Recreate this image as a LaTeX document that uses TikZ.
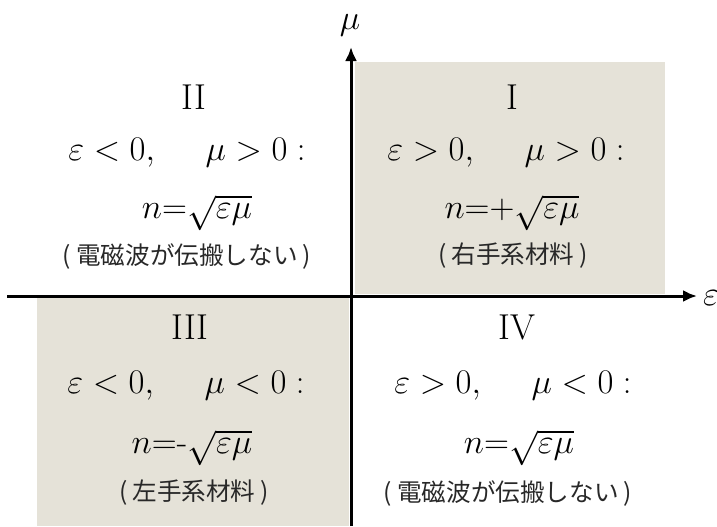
\documentclass[tikz,border=0pt]{standalone}
\usepackage{fontspec}
\newfontfamily\jpfont{Noto Sans CJK JP}
\usetikzlibrary{arrows.meta}
\definecolor{quadshade}{RGB}{229,226,216}
\definecolor{jpgray}{RGB}{40,40,40}
\newcommand{\jpparen}[1]{(\hspace{2.5pt}#1\hspace{2.5pt})}
\newcommand{\gapsp}{\hspace{1.3em}}
\tikzset{
  axis/.style={line width=1.5pt,-{Latex[length=7pt,width=6pt]}},
  numeral/.style={font=\fontsize{18}{21}\selectfont,inner sep=0pt},
  cond/.style={font=\fontsize{17.28}{20}\selectfont,inner sep=0pt},
  index/.style={font=\fontsize{17.28}{20}\selectfont,inner sep=0pt},
  jplbl/.style={font=\jpfont\fontsize{12.3}{14}\selectfont,text=jpgray,inner sep=0pt},
  axlbl/.style={font=\fontsize{17.28}{20}\selectfont,inner sep=0pt}
}
\begin{document}
\begin{tikzpicture}[x=0.5pt,y=-0.5pt]
\useasboundingbox (0,0) rectangle (717,526);
% shaded quadrants
\fill[quadshade] (355,62) rectangle (665,294);
\fill[quadshade] (37,298) rectangle (349,526);
% axes
\coordinate (xs) at (7,296);
\coordinate (xe) at (697,296);
\coordinate (ys) at (351,526);
\coordinate (ye) at (351,47);
\draw[axis] (xs) -- (xe);
\draw[axis] (ys) -- (ye);
\node[axlbl] (mulbl) at (350,25) {$\mu$};
\node[axlbl] (epslbl) at (711,298) {$\varepsilon$};
% Quadrant II
\node[numeral] (q2) at (194,97) {II};
\node[cond] (q2c) at (187,153) {$\varepsilon<0,\gapsp \mu>0:$};
\node[index] (q2n) at (197,213) {$n{=}\sqrt{\varepsilon\mu}$};
\node[jplbl] (q2j) at (187,256) {\jpparen{電磁波が伝搬しない}};
% Quadrant I
\node[numeral] (q1) at (512,97) {I};
\node[cond] (q1c) at (506,153) {$\varepsilon>0,\gapsp \mu>0:$};
\node[index] (q1n) at (512,213) {$n{=}{+}\sqrt{\varepsilon\mu}$};
\node[jplbl] (q1j) at (513,256) {\jpparen{右手系材料}};
% Quadrant III
\node[numeral] (q3) at (190,327) {III};
\node[cond] (q3c) at (186,386) {$\varepsilon<0,\gapsp \mu<0:$};
\node[index] (q3n) at (192,448) {$n{=}\mbox{-}\sqrt{\varepsilon\mu}$};
\node[jplbl] (q3j) at (194,493) {\jpparen{左手系材料}};
% Quadrant IV
\node[numeral] (q4) at (517,327) {IV};
\node[cond] (q4c) at (513,386) {$\varepsilon>0,\gapsp \mu<0:$};
\node[index] (q4n) at (519,448) {$n{=}\sqrt{\varepsilon\mu}$};
\node[jplbl] (q4j) at (508,493) {\jpparen{電磁波が伝搬しない}};
\end{tikzpicture}
\end{document}
